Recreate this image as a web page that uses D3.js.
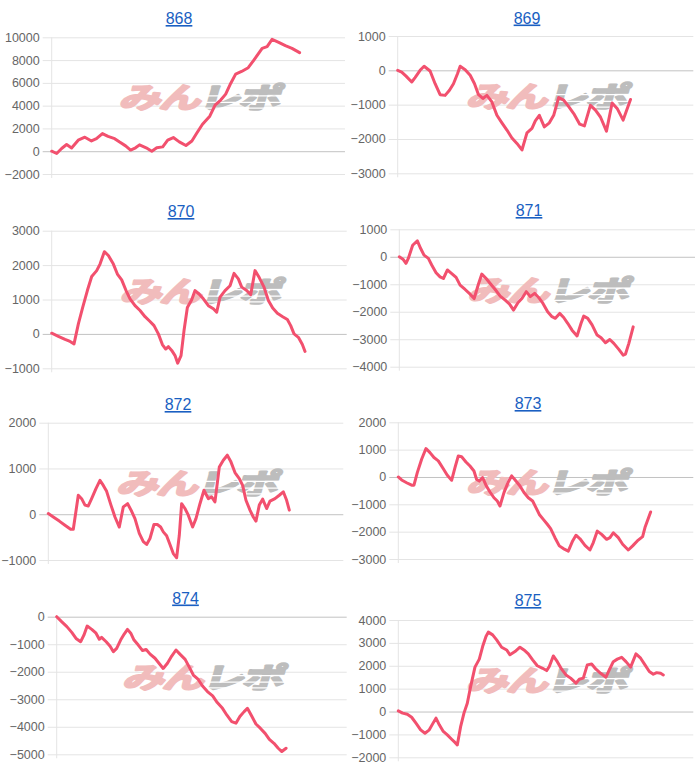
<!DOCTYPE html>
<html>
<head>
<meta charset="utf-8">
<script src="https://cdn.jsdelivr.net/npm/d3@7"></script>
<style>
  html, body { margin: 0; padding: 0; background: #fff; }
  svg { display: block; }
</style>
</head>
<body>
<div id="chart"></div>
<script>
// machine numbers (one chart each)
const machines = ['868', '869', '870', '871', '872', '873', '874', '875'];

// games played (x) and coin difference (y) for each machine
const games868 = [0,150,300,450,600,800,1000,1200,1350,1530,1700,1900,2050,2230,2380,2530,2650,2850,3020,3170,3350,3500,3670,3850,4050,4230,4370,4550,4770,4930,5100,5250,5400,5550,5730,5930,6100,6350,6500,6650,6850,7050,7250,7480];
const diff868 = [0,-200,240,590,290,970,1230,900,1100,1550,1300,1100,800,470,100,300,560,300,0,300,380,970,1200,820,500,900,1550,2370,3080,4050,4490,5010,5950,6770,7000,7330,8000,9030,9180,9820,9560,9270,9030,8650];

const games869 = [0,120,250,420,520,670,790,970,1120,1270,1420,1550,1670,1790,1870,2020,2170,2300,2420,2550,2670,2820,2970,3120,3270,3420,3570,3720,3870,4020,4120,4240,4390,4540,4670,4820,4970,5120,5270,5450,5590,5770,5920,6070,6250,6420,6570,6750,6970];
const diff869 = [0,-50,-170,-340,-210,0,120,-20,-390,-710,-730,-580,-390,-100,120,20,-145,-390,-710,-820,-730,-920,-1310,-1530,-1740,-1970,-2130,-2320,-1820,-1690,-1470,-1310,-1650,-1530,-1310,-790,-870,-1060,-1260,-1570,-1620,-1020,-1160,-1360,-1770,-950,-1110,-1450,-850];

const games870 = [0,200,400,550,670,800,930,1070,1200,1350,1450,1580,1700,1850,1970,2100,2230,2350,2500,2650,2800,2950,3070,3200,3320,3420,3500,3600,3700,3780,3880,3970,4070,4200,4300,4420,4550,4700,4850,4950,5050,5200,5350,5470,5600,5700,5850,5970,6100,6230,6370,6500,6630,6770,6930,7070,7170,7270,7400,7520,7600];
const diff870 = [20,-70,-160,-220,-290,290,770,1260,1670,1840,2030,2390,2280,2030,1740,1570,1260,1020,820,680,500,360,240,0,-310,-440,-370,-480,-630,-850,-630,100,770,990,1260,1160,1020,820,730,630,1070,1260,1400,1760,1600,1360,1260,1140,1840,1630,1360,970,750,600,500,420,240,0,-100,-310,-510];

const games871 = [0,120,200,270,400,540,640,740,870,970,1100,1220,1320,1440,1570,1700,1820,1970,2120,2240,2370,2470,2600,2720,2870,3020,3170,3300,3420,3550,3670,3800,3920,4050,4170,4300,4440,4570,4670,4800,4920,5040,5170,5320,5440,5520,5640,5770,5920,6040,6170,6300,6420,6570,6700,6770,6870,7000];
const diff871 = [0,-100,-240,-60,420,580,300,60,-60,-300,-580,-730,-790,-480,-610,-750,-1030,-1190,-1360,-1520,-990,-630,-790,-970,-1190,-1430,-1580,-1720,-1940,-1670,-1520,-1270,-1450,-1330,-1480,-1700,-2000,-2180,-2240,-2060,-2210,-2420,-2670,-2880,-2420,-2160,-2240,-2480,-2850,-2950,-3130,-3010,-3150,-3370,-3580,-3540,-3150,-2550];

const games872 = [0,150,330,500,670,750,900,1000,1100,1200,1300,1430,1550,1650,1750,1880,2000,2130,2250,2380,2500,2600,2730,2850,2950,3050,3170,3270,3370,3450,3550,3650,3750,3850,3930,4000,4100,4200,4330,4430,4550,4670,4800,4900,5000,5130,5250,5370,5470,5600,5730,5830,5930,6050,6150,6230,6330,6430,6550,6650,6800,6930,7050,7150,7230];
const diff872 = [15,-60,-150,-240,-330,-330,415,340,200,180,340,560,740,630,500,200,-60,-280,160,230,65,-95,-420,-600,-660,-530,-225,-225,-280,-385,-470,-660,-860,-950,-460,230,125,-20,-280,-95,230,525,340,380,270,1030,1180,1290,1160,910,780,630,305,90,-60,-150,200,330,125,285,340,415,490,305,90];

const games873 = [0,100,250,400,470,570,700,830,950,1070,1200,1350,1470,1600,1700,1800,1900,2030,2150,2270,2350,2430,2530,2630,2750,2870,2970,3050,3170,3300,3400,3530,3650,3770,3900,4030,4130,4230,4350,4470,4570,4700,4830,4950,5100,5230,5330,5450,5600,5750,5850,5970,6100,6250,6350,6450,6600,6730,6900,7030,7170,7330,7400,7570];
const diff873 = [0,-110,-210,-300,-300,160,650,1040,890,710,590,300,60,-120,340,770,740,550,400,220,-90,-150,-20,-300,-550,-760,-880,-1060,-570,-180,40,-150,-330,-570,-760,-880,-1120,-1370,-1550,-1730,-1890,-2220,-2520,-2620,-2710,-2340,-2130,-2260,-2500,-2670,-2400,-1980,-2100,-2280,-2220,-2040,-2220,-2460,-2670,-2520,-2340,-2180,-1850,-1280];

const games874 = [0,150,310,460,590,730,830,930,1070,1200,1300,1370,1510,1630,1730,1830,1950,2060,2160,2260,2360,2490,2620,2730,2850,3000,3140,3250,3380,3510,3640,3760,3920,4050,4170,4320,4450,4600,4760,4900,5060,5190,5340,5470,5590,5720,5820,5950,6080,6220,6360,6490,6630,6760,6870,7000];
const diff874 = [0,-180,-360,-570,-790,-910,-670,-340,-460,-600,-820,-750,-910,-1070,-1270,-1150,-850,-630,-460,-600,-850,-1030,-1230,-1190,-1360,-1510,-1720,-1880,-1690,-1430,-1210,-1360,-1550,-1840,-2120,-2280,-2520,-2720,-2880,-3120,-3330,-3570,-3810,-3870,-3630,-3450,-3330,-3610,-3900,-4060,-4240,-4460,-4600,-4780,-4900,-4780];

const games875 = [0,130,270,400,530,670,800,930,1030,1130,1230,1350,1470,1600,1700,1770,1870,1970,2070,2170,2300,2430,2530,2630,2700,2830,2950,3100,3250,3350,3500,3650,3770,3900,4030,4170,4330,4450,4530,4650,4770,4900,5030,5170,5330,5430,5550,5670,5800,5930,6070,6230,6330,6450,6570,6700,6830,6970,7130,7270,7400,7530,7650,7750,7870,7950];
const diff875 = [30,-70,-120,-250,-510,-800,-950,-800,-540,-290,-580,-870,-1020,-1210,-1350,-1460,-660,-70,360,1090,1940,2290,2840,3280,3470,3350,3130,2810,2690,2480,2620,2810,2690,2520,2260,2000,1890,1790,1970,2430,2180,1850,1600,1460,1240,1410,1460,2040,2080,1850,1670,1500,1820,2180,2290,2370,2180,1940,2520,2330,2040,1750,1630,1700,1670,1600];

// y tick labels for each chart
const ticks868 = [-2000, 0, 2000, 4000, 6000, 8000, 10000];
const ticks869 = [-3000, -2000, -1000, 0, 1000];
const ticks870 = [-1000, 0, 1000, 2000, 3000];
const ticks871 = [-4000, -3000, -2000, -1000, 0, 1000];
const ticks872 = [-1000, 0, 1000, 2000];
const ticks873 = [-3000, -2000, -1000, 0, 1000, 2000];
const ticks874 = [-5000, -4000, -3000, -2000, -1000, 0];
const ticks875 = [-2000, -1000, 0, 1000, 2000, 3000, 4000];

const gamesMax = 8850;

const series = {
  '868': { games: games868, diff: diff868, ticks: ticks868 },
  '869': { games: games869, diff: diff869, ticks: ticks869 },
  '870': { games: games870, diff: diff870, ticks: ticks870 },
  '871': { games: games871, diff: diff871, ticks: ticks871 },
  '872': { games: games872, diff: diff872, ticks: ticks872 },
  '873': { games: games873, diff: diff873, ticks: ticks873 },
  '874': { games: games874, diff: diff874, ticks: ticks874 },
  '875': { games: games875, diff: diff875, ticks: ticks875 }
};

// plot box of each small chart (left, right, top, bottom) and title spot
const boxes = {
  '868': { l: 51.7, r: 345, t: 37.3, b: 174, tx: 179, ty: 24 },
  '869': { l: 397.7, r: 693.3, t: 36, b: 173.3, tx: 527, ty: 23.5 },
  '870': { l: 51.7, r: 346.7, t: 230.7, b: 368.3, tx: 181, ty: 217 },
  '871': { l: 399.3, r: 695, t: 229.3, b: 366.7, tx: 529, ty: 216 },
  '872': { l: 48.3, r: 343.3, t: 422.7, b: 560, tx: 178, ty: 410 },
  '873': { l: 398.3, r: 693.3, t: 422.3, b: 559, tx: 528, ty: 409 },
  '874': { l: 56.7, r: 346.7, t: 616.7, b: 754.3, tx: 185.5, ty: 603.5 },
  '875': { l: 398.3, r: 693.3, t: 620, b: 757.3, tx: 528, ty: 606 }
};

const svg = d3.select('#chart')
  .append('svg')
  .attr('width', 700)
  .attr('height', 773);

machines.forEach(function (id) {
  let s = series[id];
  let b = boxes[id];
  let g = svg.append('g');

  let x = d3.scaleLinear().domain([0, gamesMax]).range([b.l, b.r]);
  let y = d3.scaleLinear()
    .domain([d3.min(s.ticks), d3.max(s.ticks)])
    .range([b.b, b.t]);

  // title (link style)
  g.append('text')
    .attr('x', b.tx)
    .attr('y', b.ty)
    .attr('text-anchor', 'middle')
    .style('font-family', '"Liberation Sans", Arial, Helvetica, sans-serif')
    .style('font-size', '16px')
    .style('text-decoration', 'underline')
    .style('fill', '#1a5fc2')
    .text(id);

  // y axis with gridlines running across the plot
  let yAxis = d3.axisLeft(y)
    .tickValues(s.ticks)
    .tickSize(-(b.r - b.l + 9))
    .tickPadding(3)
    .tickFormat(d3.format('d'));

  let ax = g.append('g')
    .attr('transform', 'translate(' + (b.l - 9) + ',0)')
    .call(yAxis);

  ax.select('.domain').remove();
  ax.selectAll('.tick line')
    .attr('stroke', function (d) { return d === 0 ? '#c2c2c2' : '#e4e4e4'; })
    .attr('stroke-width', 1);
  ax.selectAll('.tick text')
    .style('font-family', '"Liberation Sans", Arial, Helvetica, sans-serif')
    .style('font-size', '12.5px')
    .style('fill', '#666');

  // left axis line
  g.append('line')
    .attr('x1', b.l).attr('x2', b.l)
    .attr('y1', b.t).attr('y2', b.b + 4)
    .attr('stroke', '#e4e4e4');

  // watermark behind the line
  let cx = (b.l + b.r) / 2;
  let cy = b.t + (b.b - b.t) * 0.44;
  let wm = g.append('g')
    .attr('transform', 'translate(' + cx + ',' + (cy + 11) + ') skewX(-16) scale(1.4,0.95)');
  let wt = wm.append('text')
    .attr('text-anchor', 'middle')
    .style('font-family', '"Noto Sans CJK JP", sans-serif')
    .style('font-weight', 'bold')
    .style('font-size', '30px')
    .style('letter-spacing', '-1.5px')
    .style('stroke-width', 2.2)
    .style('stroke-linejoin', 'round');
  wt.append('tspan').style('fill', '#f1bcbc').style('stroke', '#f1bcbc').text('みん');
  wt.append('tspan').style('fill', '#bdbdbd').style('stroke', '#bdbdbd').text('レポ');

  // speed stripes through the grey part of the mark
  [-14, -7, -1].forEach(function (dy) {
    wm.append('rect')
      .attr('x', 2).attr('y', dy)
      .attr('width', 58).attr('height', 1.3)
      .attr('fill', '#fff');
  });

  // the coin difference line
  let pts = s.games.map(function (d, i) { return [d, s.diff[i]]; });
  let line = d3.line()
    .x(function (d) { return x(d[0]); })
    .y(function (d) { return y(d[1]); });

  g.append('path')
    .datum(pts)
    .attr('d', line)
    .attr('fill', 'none')
    .attr('stroke', '#f2506e')
    .attr('stroke-width', 3)
    .attr('stroke-linejoin', 'round')
    .attr('stroke-linecap', 'round');
});
</script>
</body>
</html>
